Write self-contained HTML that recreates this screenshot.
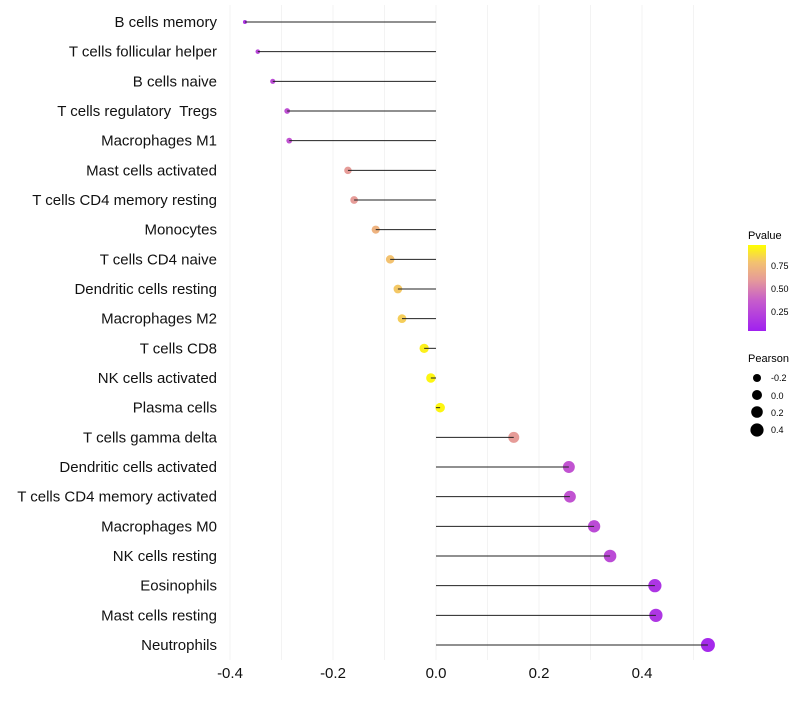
<!DOCTYPE html>
<html><head><meta charset="utf-8"><style>
body{margin:0;background:#fff;font-family:"Liberation Sans",sans-serif}
text{white-space:pre}
</style></head><body>
<svg id="chart" width="800" height="700" xmlns="http://www.w3.org/2000/svg" font-family="Liberation Sans, sans-serif">
<defs><linearGradient id="pg" x1="0" y1="1" x2="0" y2="0">
<stop offset="0" stop-color="#a020f0"/><stop offset="0.35" stop-color="#c65ccc"/><stop offset="0.6" stop-color="#e69c98"/><stop offset="0.8" stop-color="#f3c270"/><stop offset="1" stop-color="#ffff00"/></linearGradient></defs>
<g id="grid"></g><g id="pts"></g><g id="marks"></g><g id="labels"></g><g id="xticks"></g>
<g>
<text x="748" y="239" font-size="11">Pvalue</text>
<rect x="748" y="245" width="18" height="86" fill="url(#pg)"/>
<text x="771" y="269" font-size="9">0.75</text><text x="771" y="292" font-size="9">0.50</text><text x="771" y="315" font-size="9">0.25</text>
</g>
<g>
<text x="748" y="362" font-size="11">Pearson</text>
<circle cx="757" cy="378" r="4"/><text x="771" y="381" font-size="9">-0.2</text>
<circle cx="757" cy="395" r="5"/><text x="771" y="399" font-size="9">0.0</text>
<circle cx="757" cy="412" r="5.8"/><text x="771" y="416" font-size="9">0.2</text>
<circle cx="757" cy="430" r="6.6"/><text x="771" y="433" font-size="9">0.4</text>
</g>
</svg>
<script>
const categories=["B cells memory","T cells follicular helper","B cells naive","T cells regulatory  Tregs","Macrophages M1","Mast cells activated","T cells CD4 memory resting","Monocytes","T cells CD4 naive","Dendritic cells resting","Macrophages M2","T cells CD8","NK cells activated","Plasma cells","T cells gamma delta","Dendritic cells activated","T cells CD4 memory activated","Macrophages M0","NK cells resting","Eosinophils","Mast cells resting","Neutrophils"];
const pearson=[-0.371,-0.346,-0.317,-0.289,-0.285,-0.171,-0.159,-0.117,-0.089,-0.074,-0.066,-0.023,-0.010,0.008,0.151,0.258,0.260,0.307,0.338,0.425,0.427,0.528];
const pvalue=[0.12,0.22,0.25,0.28,0.3,0.6,0.6,0.72,0.8,0.82,0.84,0.95,0.97,0.97,0.6,0.3,0.3,0.25,0.25,0.12,0.13,0.05];
const xTicks=[-0.4,-0.2,0.0,0.2,0.4];
const xTickLabels=["-0.4","-0.2","0.0","0.2","0.4"];
const NS="http://www.w3.org/2000/svg";
const x=v=>436+v*515;
const y=i=>22+i*(623/21);
function mk(t,a,p){const e=document.createElementNS(NS,t);for(const k in a)e.setAttribute(k,a[k]);p.appendChild(e);return e;}
function col(p){const st=[[0,[160,32,240]],[0.35,[198,92,204]],[0.6,[230,156,152]],[0.8,[243,194,112]],[1,[255,255,0]]];
for(let i=1;i<st.length;i++){if(p<=st[i][0]){const t=(p-st[i-1][0])/(st[i][0]-st[i-1][0]);const c=st[i-1][1].map((v,j)=>Math.round(v+(st[i][1][j]-v)*t));return `rgb(${c})`;}}return "rgb(255,255,0)";}
const grid=document.getElementById('grid'),pts=document.getElementById('pts'),marks=document.getElementById('marks'),labels=document.getElementById('labels'),xt=document.getElementById('xticks');
for(let v=-0.4;v<=0.51;v+=0.1){const l=mk('line',{x1:x(v),x2:x(v),y1:5,y2:660,stroke:'#f3f3f3','stroke-width':1},grid);

}
categories.forEach((c,i)=>{
const r=Math.sqrt(4+(pearson[i]+0.371)/0.9*45);
const pt=mk('circle',{cx:x(pearson[i]),cy:y(i),r:r,fill:col(pvalue[i])},pts);


const ln=mk('line',{x1:x(0),x2:x(pearson[i]),y1:y(i),y2:y(i),stroke:'#222','stroke-width':1},marks);


const t=mk('text',{x:217,y:y(i)+5,'font-size':15,'text-anchor':'end',fill:'#111'},labels);t.textContent=c;


});
xTicks.forEach((v,i)=>{const t=mk('text',{x:x(v),y:678,'font-size':15,'text-anchor':'middle',fill:'#111'},xt);t.textContent=xTickLabels[i];

});
</script>
</body></html>
